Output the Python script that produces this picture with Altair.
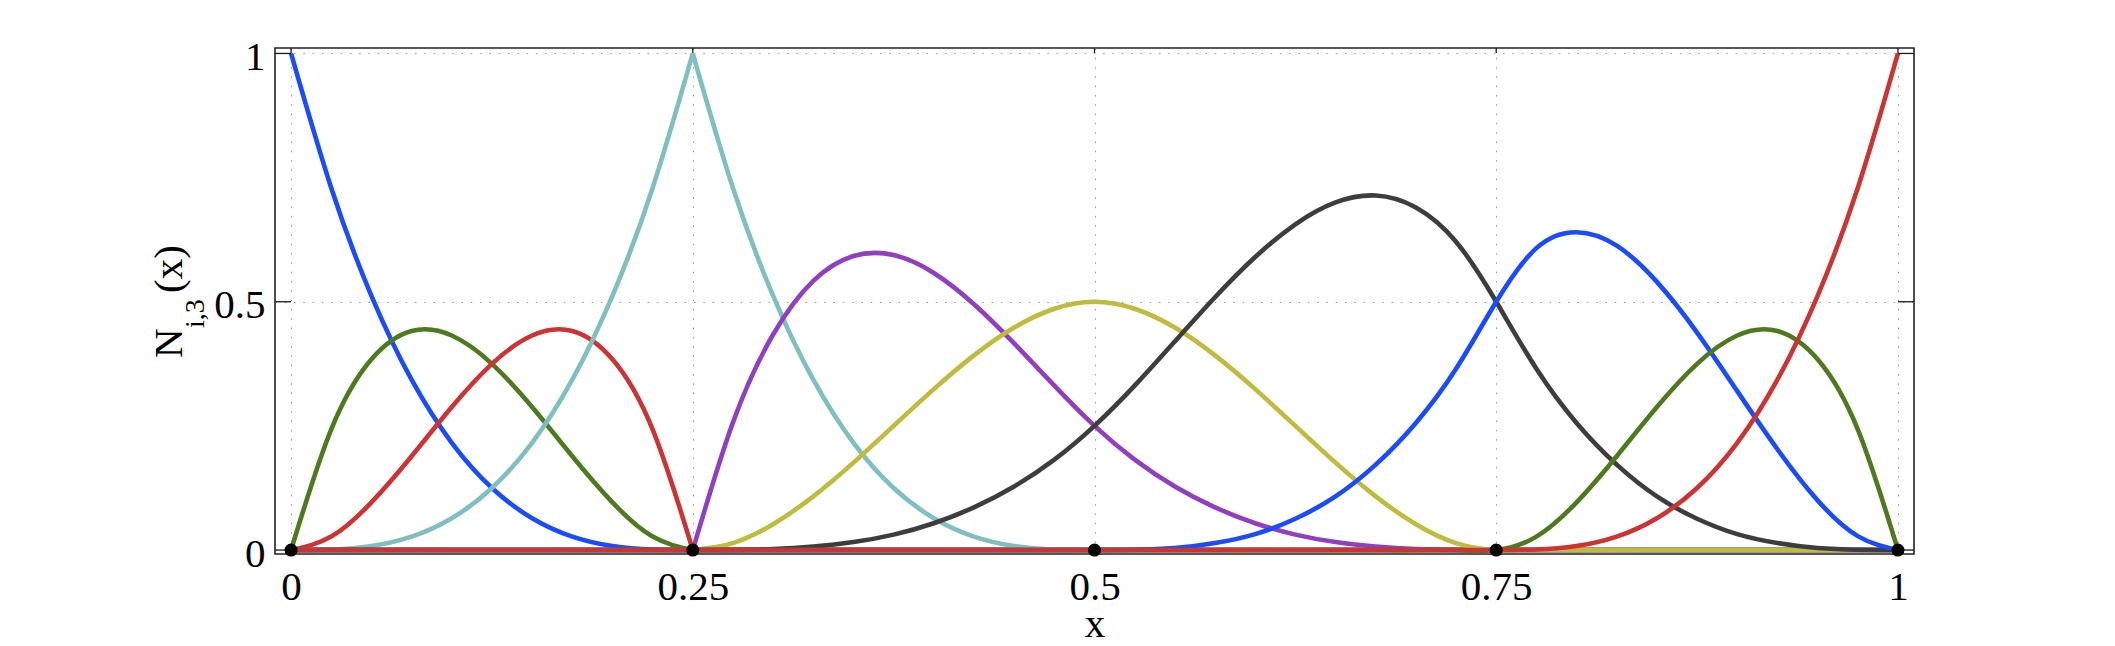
import altair as alt
import pandas as pd

# sample positions along x (knot span 0.25 split in 10 steps)
X_GRID = [0.0, 0.025, 0.05, 0.075, 0.1, 0.125, 0.15, 0.175, 0.2, 0.225,
          0.25, 0.275, 0.3, 0.325, 0.35, 0.375, 0.4, 0.425, 0.45, 0.475,
          0.5, 0.525, 0.55, 0.575, 0.6, 0.625, 0.65, 0.675, 0.7, 0.725,
          0.75, 0.775, 0.8, 0.825, 0.85, 0.875, 0.9, 0.925, 0.95, 0.975,
          1.0]

N0 = [1.0, 0.729, 0.512, 0.343, 0.216, 0.125, 0.064, 0.027, 0.008, 0.001,
      0, 0, 0, 0, 0, 0, 0, 0, 0, 0,
      0, 0, 0, 0, 0, 0, 0, 0, 0, 0,
      0, 0, 0, 0, 0, 0, 0, 0, 0, 0,
      0]
N1 = [0, 0.243, 0.384, 0.441, 0.432, 0.375, 0.288, 0.189, 0.096, 0.027,
      0, 0, 0, 0, 0, 0, 0, 0, 0, 0,
      0, 0, 0, 0, 0, 0, 0, 0, 0, 0,
      0, 0, 0, 0, 0, 0, 0, 0, 0, 0,
      0]
N2 = [0, 0.027, 0.096, 0.189, 0.288, 0.375, 0.432, 0.441, 0.384, 0.243,
      0, 0, 0, 0, 0, 0, 0, 0, 0, 0,
      0, 0, 0, 0, 0, 0, 0, 0, 0, 0,
      0, 0, 0, 0, 0, 0, 0, 0, 0, 0,
      0]
N3 = [0, 0.001, 0.008, 0.027, 0.064, 0.125, 0.216, 0.343, 0.512, 0.729,
      1.0, 0.729, 0.512, 0.343, 0.216, 0.125, 0.064, 0.027, 0.008, 0.001,
      0, 0, 0, 0, 0, 0, 0, 0, 0, 0,
      0, 0, 0, 0, 0, 0, 0, 0, 0, 0,
      0]
N4 = [0, 0, 0, 0, 0, 0, 0, 0, 0, 0,
      0, 0.257, 0.434, 0.542, 0.592, 0.594, 0.558, 0.495, 0.416, 0.331,
      0.25, 0.182, 0.128, 0.086, 0.054, 0.031, 0.016, 0.007, 0.002, 0.0003,
      0, 0, 0, 0, 0, 0, 0, 0, 0, 0,
      0]
N5 = [0, 0, 0, 0, 0, 0, 0, 0, 0, 0,
      0, 0.014, 0.052, 0.108, 0.176, 0.25, 0.324, 0.392, 0.448, 0.486,
      0.5, 0.486, 0.448, 0.392, 0.324, 0.25, 0.176, 0.108, 0.052, 0.014,
      0, 0, 0, 0, 0, 0, 0, 0, 0, 0,
      0]
N6 = [0, 0, 0, 0, 0, 0, 0, 0, 0, 0,
      0, 0.0003, 0.002, 0.007, 0.016, 0.031, 0.054, 0.086, 0.128, 0.182,
      0.25, 0.331, 0.42, 0.509, 0.59, 0.656, 0.70, 0.714, 0.69, 0.621,
      0.5, 0.365, 0.256, 0.172, 0.108, 0.063, 0.032, 0.014, 0.004, 0.0005,
      0]
N7 = [0, 0, 0, 0, 0, 0, 0, 0, 0, 0,
      0, 0, 0, 0, 0, 0, 0, 0, 0, 0,
      0, 0.0005, 0.004, 0.014, 0.032, 0.063, 0.108, 0.172, 0.256, 0.365,
      0.5, 0.608, 0.64, 0.613, 0.54, 0.438, 0.32, 0.203, 0.1, 0.028,
      0]
N8 = [0, 0, 0, 0, 0, 0, 0, 0, 0, 0,
      0, 0, 0, 0, 0, 0, 0, 0, 0, 0,
      0, 0, 0, 0, 0, 0, 0, 0, 0, 0,
      0, 0.027, 0.096, 0.189, 0.288, 0.375, 0.432, 0.441, 0.384, 0.243,
      0]
N9 = [0, 0, 0, 0, 0, 0, 0, 0, 0, 0,
      0, 0, 0, 0, 0, 0, 0, 0, 0, 0,
      0, 0, 0, 0, 0, 0, 0, 0, 0, 0,
      0, 0.001, 0.008, 0.027, 0.064, 0.125, 0.216, 0.343, 0.512, 0.729,
      1.0]

SERIES = [N0, N1, N2, N3, N4, N5, N6, N7, N8, N9]
COLORS = ["#1a4bff", "#4d7a1f", "#cc3333", "#7fbfbf", "#8f3fbf",
          "#bfbb3d", "#3d3d3d", "#1a4bff", "#4d7a1f", "#cc3333"]

KNOTS_X = [0, 0.25, 0.5, 0.75, 1]
KNOTS_Y = [0, 0, 0, 0, 0]
X_TICKS = [0, 0.25, 0.5, 0.75, 1]
Y_TICKS = [0, 0.5, 1]
BREAK_INDEX = 10  # C0 knot at x = 0.25: curves are split there

W, H = 1639, 506
FONT = "Liberation Serif"
FS = 41
LABEL_EXPR = "format(datum.value, '~g')"

xs = alt.Scale(domain=[-0.01, 1.01], nice=False, zero=False)
ys = alt.Scale(domain=[-0.008, 1.011], nice=False, zero=False)

xaxis = alt.Axis(values=X_TICKS, labelExpr=LABEL_EXPR, labelFont=FONT,
                 labelFontSize=FS, labelColor="black", labelPadding=13,
                 labelFlush=False, labelOverlap=False, ticks=False, tickSize=0,
                 domain=False, grid=True, gridColor="#9a9a9a",
                 gridDash=[1.5, 7.8], gridWidth=1,
                 title="x", titleFont=FONT, titleFontSize=FS,
                 titleFontWeight="normal", titleColor="black",
                 titleBaseline="alphabetic", titleY=82, titleX=W / 2,
                 titleAlign="center")
yaxis = alt.Axis(values=Y_TICKS, labelExpr=LABEL_EXPR, labelFont=FONT,
                 labelFontSize=FS, labelColor="black", labelPadding=10,
                 labelOffset=4, labelFlush=False, labelOverlap=False,
                 ticks=False, tickSize=0, domain=False, grid=True,
                 gridColor="#9a9a9a", gridDash=[1.5, 7.8], gridWidth=1,
                 title=None)

X = alt.X("x:Q", scale=xs, axis=xaxis)
Y = alt.Y("y:Q", scale=ys, axis=yaxis)

layers = []
for k, vals in enumerate(SERIES):
    rows = []
    for i, (xv, yv) in enumerate(zip(X_GRID, vals)):
        if i <= BREAK_INDEX:
            rows.append({"x": xv, "y": yv, "part": 0})
        if i >= BREAK_INDEX:
            rows.append({"x": xv, "y": yv, "part": 1})
    layers.append(
        alt.Chart(pd.DataFrame(rows))
        .mark_line(color=COLORS[k], strokeWidth=4.6, interpolate="natural")
        .encode(x=X, y=Y, detail="part:N")
    )

ytick_df = pd.DataFrame({"y": Y_TICKS})
xtick_df = pd.DataFrame({"x": X_TICKS})
TICK = dict(color="#1a1a1a", strokeWidth=1.3)
layers += [
    alt.Chart(ytick_df).mark_rule(**TICK).encode(y=Y, x=alt.value(0), x2=alt.value(16)),
    alt.Chart(ytick_df).mark_rule(**TICK).encode(y=Y, x=alt.value(W - 16), x2=alt.value(W)),
    alt.Chart(xtick_df).mark_rule(**TICK).encode(x=X, y=alt.value(H), y2=alt.value(H - 5)),
    alt.Chart(xtick_df).mark_rule(**TICK).encode(x=X, y=alt.value(0), y2=alt.value(5)),
]

layers.append(
    alt.Chart(pd.DataFrame({"x": KNOTS_X, "y": KNOTS_Y}))
    .mark_circle(size=170, color="black", opacity=1)
    .encode(x=X, y=Y)
)


def title_piece(text, px, py, size):
    return (
        alt.Chart(pd.DataFrame({"t": [text]}))
        .mark_text(angle=270, align="left", baseline="alphabetic", font=FONT,
                   fontSize=size, color="black")
        .encode(text="t:N", x=alt.value(px), y=alt.value(py))
    )


layers += [
    title_piece("N", -93, 310, FS),
    title_piece("i,3", -71, 280, 28),
    title_piece("(x)", -93, 245, FS),
]

chart = (
    alt.layer(*layers)
    .properties(width=W, height=H, autosize=alt.AutoSizeParams(type="none"),
                padding={"left": 267, "top": 40, "right": 150, "bottom": 84},
                background="white")
    .configure_view(stroke="#222222", strokeWidth=1.6)
)

chart.save("out.html", embed_options={"renderer": "svg", "actions": False})
